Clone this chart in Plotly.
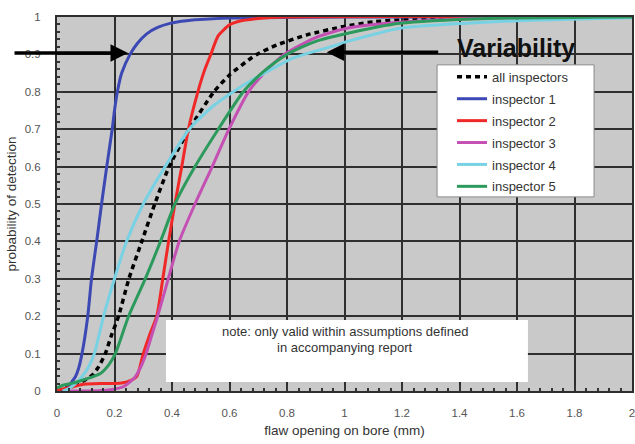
import plotly.graph_objects as go

# ---- data ----
x_all = [0, 0.046, 0.087, 0.122, 0.145, 0.168, 0.19, 0.214, 0.25, 0.295, 0.34, 0.39, 0.46, 0.546, 0.6, 0.666, 0.695, 0.764, 0.868, 1.0, 1.1, 1.3, 1.6, 2.0]
y_all = [0, 0.012, 0.025, 0.042, 0.065, 0.1, 0.15, 0.2, 0.3, 0.4, 0.5, 0.6, 0.7, 0.8, 0.845, 0.885, 0.9, 0.925, 0.952, 0.975, 0.987, 0.997, 1.0, 1.0]

x_i1 = [0, 0.03, 0.04, 0.052, 0.064, 0.075, 0.087, 0.107, 0.12, 0.138, 0.155, 0.173, 0.192, 0.2, 0.21, 0.225, 0.254, 0.28, 0.312, 0.35, 0.393, 0.45, 0.6, 1.0, 2.0]
y_i1 = [0, 0.004, 0.012, 0.025, 0.038, 0.06, 0.1, 0.2, 0.3, 0.4, 0.5, 0.6, 0.7, 0.75, 0.8, 0.85, 0.9, 0.93, 0.955, 0.972, 0.983, 0.99, 0.997, 1.0, 1.0]

x_i2 = [0, 0.05, 0.093, 0.15, 0.2, 0.23, 0.255, 0.278, 0.3, 0.322, 0.347, 0.368, 0.388, 0.41, 0.434, 0.457, 0.49, 0.512, 0.535, 0.561, 0.6, 0.63, 0.7, 0.8, 2.0]
y_i2 = [0.003, 0.01, 0.018, 0.02, 0.02, 0.022, 0.028, 0.04, 0.1, 0.15, 0.2, 0.3, 0.4, 0.5, 0.6, 0.7, 0.8, 0.855, 0.9, 0.95, 0.979, 0.988, 0.996, 1.0, 1.0]

x_i3 = [0.04, 0.1, 0.17, 0.2, 0.232, 0.255, 0.272, 0.292, 0.31, 0.33, 0.35, 0.387, 0.425, 0.48, 0.54, 0.598, 0.666, 0.72, 0.79, 0.9, 1.008, 1.193, 1.5, 2.0]
y_i3 = [0, 0.0, 0.002, 0.005, 0.012, 0.025, 0.038, 0.065, 0.1, 0.15, 0.2, 0.3, 0.4, 0.5, 0.6, 0.7, 0.8, 0.85, 0.9, 0.945, 0.97, 0.986, 0.997, 1.0]

x_i4 = [0.02, 0.04, 0.058, 0.087, 0.11, 0.13, 0.162, 0.2, 0.242, 0.3, 0.376, 0.46, 0.54, 0.613, 0.68, 0.741, 0.82, 0.95, 1.008, 1.193, 1.54, 2.0]
y_i4 = [0, 0.006, 0.016, 0.038, 0.065, 0.1, 0.2, 0.3, 0.4, 0.5, 0.6, 0.7, 0.76, 0.8, 0.832, 0.858, 0.89, 0.92, 0.934, 0.97, 0.988, 0.998]

x_i5 = [0, 0.023, 0.06, 0.093, 0.151, 0.18, 0.203, 0.249, 0.307, 0.36, 0.41, 0.48, 0.561, 0.648, 0.72, 0.8, 0.9, 1.008, 1.193, 1.5, 2.0]
y_i5 = [0.008, 0.016, 0.022, 0.03, 0.047, 0.07, 0.1, 0.2, 0.3, 0.4, 0.5, 0.6, 0.7, 0.8, 0.855, 0.9, 0.935, 0.956, 0.983, 0.996, 1.0]

series_names = ["all inspectors", "inspector 1", "inspector 2", "inspector 3", "inspector 4", "inspector 5"]
series_colors = ["#000000", "#3c48b4", "#f02828", "#c450b4", "#78d2e4", "#2c9a5c"]

x_tickvals = [0, 0.2, 0.4, 0.6, 0.8, 1.0, 1.2, 1.4, 1.6, 1.8, 2.0]
x_ticktext = ["0", "0.2", "0.4", "0.6", "0.8", "1", "1.2", "1.4", "1.6", "1.8", "2"]
y_tickvals = [0, 0.1, 0.2, 0.3, 0.4, 0.5, 0.6, 0.7, 0.8, 0.9, 1.0]
y_ticktext = ["0", "0.1", "0.2", "0.3", "0.4", "0.5", "0.6", "0.7", "0.8", "0.9", "1"]

FONT = "Liberation Sans, Arial, sans-serif"

fig = go.Figure()

xs = [x_all, x_i1, x_i2, x_i3, x_i4, x_i5]
ys = [y_all, y_i1, y_i2, y_i3, y_i4, y_i5]
for i, (xv, yv) in enumerate(zip(xs, ys)):
    line = dict(color=series_colors[i], width=3, shape="spline", smoothing=0.6)
    if i == 0:
        line.update(dash="5px,4px", width=3.5)
    fig.add_trace(go.Scatter(x=xv, y=yv, mode="lines", name=series_names[i],
                             line=line, legendgroup=f"g{i}", hoverinfo="skip"))

# legend frame and note box (drawn between grid and traces)
fig.add_shape(type="rect", xref="x", yref="y", x0=1.322, x1=1.868, y0=0.519, y1=0.872,
              fillcolor="white", line=dict(color="#8a8a8a", width=1), layer="between")
fig.add_shape(type="rect", xref="x", yref="y", x0=0.379, x1=1.638, y0=0.024, y1=0.19,
              fillcolor="white", line=dict(width=0), layer="between")

# arrows and labels
fig.add_annotation(x=0.247, y=0.904, xref="x", yref="y", ax=-115, ay=0, text="",
                   showarrow=True, arrowhead=2, arrowsize=1, arrowwidth=3.5, arrowcolor="black")
fig.add_annotation(x=0.938, y=0.906, xref="x", yref="y", ax=113, ay=0, text="",
                   showarrow=True, arrowhead=2, arrowsize=1, arrowwidth=3.5, arrowcolor="black")
fig.add_annotation(x=1.597, y=0.917, xref="x", yref="y", text="<b>Variability</b>",
                   showarrow=False, font=dict(family=FONT, size=25, color="#111"))
fig.add_annotation(x=1.003, y=0.158, xref="x", yref="y",
                   text="note: only valid within assumptions defined",
                   showarrow=False, font=dict(family=FONT, size=13, color="#333"))
fig.add_annotation(x=1.003, y=0.115, xref="x", yref="y",
                   text="in accompanying report",
                   showarrow=False, font=dict(family=FONT, size=13, color="#333"))

axis_common = dict(showgrid=True, gridcolor="#2e2e2e", gridwidth=2, zeroline=False,
                   showline=True, linecolor="#2e2e2e", linewidth=2, mirror=True,
                   ticks="inside", ticklen=6, tickwidth=1.5, tickcolor="#333",
                   ticklabeloverflow="allow",
                   tickfont=dict(family=FONT, size=11.5, color="#555"))

fig.update_xaxes(range=[0, 2], tickmode="array", tickvals=x_tickvals, ticktext=x_ticktext,
                 minor=dict(dtick=0.04, tick0=0, ticks="inside", ticklen=3, tickcolor="#333", showgrid=False),
                 ticklabelstandoff=10,
                 title=dict(text="flaw opening on bore (mm)", standoff=8,
                            font=dict(family=FONT, size=13.5, color="#333")),
                 **axis_common)
fig.update_yaxes(range=[0, 1], tickmode="array", tickvals=y_tickvals, ticktext=y_ticktext,
                 minor=dict(dtick=0.02, tick0=0, ticks="inside", ticklen=3, tickcolor="#333", showgrid=False),
                 ticklabelstandoff=12,
                 title=dict(text="probability of detection", standoff=5,
                            font=dict(family=FONT, size=13.5, color="#333")),
                 **axis_common)

fig.update_layout(
    width=635, height=444,
    margin=dict(l=57, r=3, t=17, b=53, autoexpand=False),
    paper_bgcolor="white", plot_bgcolor="#c9c9c9",
    showlegend=True,
    legend=dict(x=0.687, y=0.880, xanchor="left", yanchor="top",
                bgcolor="rgba(0,0,0,0)", borderwidth=0, tracegroupgap=2,
                font=dict(family=FONT, size=13, color="#333")),
    font=dict(family=FONT),
)

fig.write_html("out.html", config={"displayModeBar": False},
               post_script="document.body.style.margin='0';document.body.style.padding='0';")
